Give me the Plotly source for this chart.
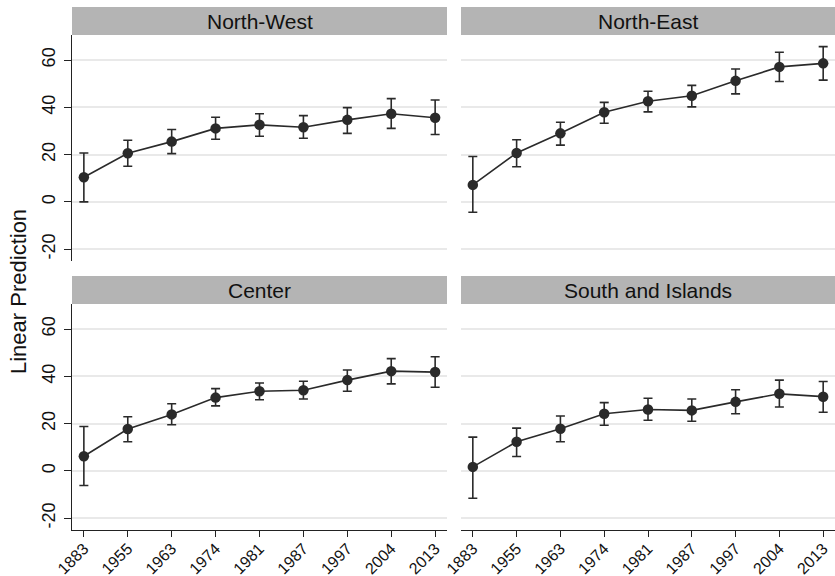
import plotly.graph_objects as go

years = ["1883", "1955", "1963", "1974", "1981", "1987", "1997", "2004", "2013"]
regions = ["North-West", "North-East", "Center", "South and Islands"]

nw_mean = [10.4, 20.6, 25.5, 31.1, 32.6, 31.6, 34.7, 37.3, 35.6]
nw_low = [0.0, 15.1, 20.4, 26.5, 27.8, 26.9, 29.0, 31.1, 28.5]
nw_high = [20.7, 26.1, 30.6, 35.8, 37.3, 36.5, 39.9, 43.7, 43.1]

ne_mean = [7.2, 20.7, 29.0, 37.9, 42.6, 44.9, 51.2, 57.1, 58.6]
ne_low = [-4.4, 14.9, 24.0, 33.3, 38.1, 40.2, 45.7, 50.9, 51.5]
ne_high = [19.2, 26.3, 33.7, 42.1, 46.8, 49.3, 56.2, 63.3, 65.7]

ce_mean = [6.2, 17.7, 23.9, 31.0, 33.7, 34.1, 38.4, 42.2, 41.8]
ce_low = [-6.2, 12.3, 19.5, 27.5, 30.1, 30.4, 33.7, 36.8, 35.4]
ce_high = [18.8, 22.9, 28.4, 34.8, 37.2, 37.9, 42.7, 47.5, 48.3]

si_mean = [1.7, 12.3, 17.8, 24.2, 26.0, 25.6, 29.2, 32.6, 31.4]
si_low = [-11.6, 6.1, 12.3, 19.3, 21.4, 21.0, 24.2, 27.0, 24.8]
si_high = [14.3, 18.1, 23.2, 28.9, 30.7, 30.4, 34.3, 38.4, 37.8]

y_ticks = [-20, 0, 20, 40, 60]
y_tick_labels = ["-20", "0", "20", "40", "60"]

series = [
    (nw_mean, nw_low, nw_high),
    (ne_mean, ne_low, ne_high),
    (ce_mean, ce_low, ce_high),
    (si_mean, si_low, si_high),
]

W, H = 835, 576
FONT = "Liberation Sans, Arial, sans-serif"
DARK = "#2a2a2a"
GRID = "#e9e9e9"
STRIP = "#b4b4b4"

# panel pixel boxes
xcols = [(72, 447), (461, 835)]
yrows = [(35, 261), (304, 530)]
strips = [(7, 35), (276, 304)]

fig = go.Figure()
layout = {}
for i, (mean, low, high) in enumerate(series):
    r, c = divmod(i, 2)
    ax = "" if i == 0 else str(i + 1)
    xref, yref = "x" + ax, "y" + ax
    err_plus = [h - m for h, m in zip(high, mean)]
    err_minus = [m - l for m, l in zip(mean, low)]
    fig.add_trace(go.Scatter(
        x=list(range(len(years))), y=mean, mode="lines+markers",
        xaxis=xref, yaxis=yref, showlegend=False,
        line=dict(color=DARK, width=1.6),
        marker=dict(color=DARK, size=10.5),
        error_y=dict(type="data", symmetric=False, array=err_plus,
                     arrayminus=err_minus, color=DARK, thickness=1.6, width=4.5),
        cliponaxis=False,
    ))
    x0, x1 = xcols[c]
    yt, yb = yrows[r]
    bottom = r == 1
    left = c == 0
    layout["xaxis" + ax] = dict(
        domain=[x0 / W, x1 / W], anchor=yref, range=[-0.27, 8.27],
        tickmode="array", tickvals=list(range(len(years))), ticktext=years,
        showticklabels=bottom, ticks="outside" if bottom else "",
        ticklen=6, tickwidth=1.3, tickcolor="#222",
        showline=bottom, linecolor="#222", linewidth=1.3,
        showgrid=False, zeroline=False, tickangle=-45, automargin=False,
        ticklabelstandoff=-4,
        tickfont=dict(family=FONT, size=16, color="#111"),
    )
    layout["yaxis" + ax] = dict(
        domain=[1 - yb / H, 1 - yt / H], anchor=xref, range=[-25, 70.6],
        tickmode="array", tickvals=y_ticks, ticktext=y_tick_labels,
        showticklabels=left, ticks="outside" if left else "",
        ticklen=7, tickwidth=1.3, tickcolor="#222",
        showline=left, linecolor="#222", linewidth=1.3,
        showgrid=True, gridcolor=GRID, gridwidth=1.5, zeroline=False,
        tickangle=-90, automargin=False, ticklabelstandoff=2,
        tickfont=dict(family=FONT, size=18, color="#111"),
    )
    sy0, sy1 = strips[r]
    fig.add_shape(type="rect", xref="paper", yref="paper",
                  x0=x0 / W, x1=x1 / W, y0=1 - sy1 / H, y1=1 - sy0 / H,
                  fillcolor=STRIP, line=dict(width=0), layer="below")
    fig.add_annotation(xref="paper", yref="paper",
                       x=(x0 + x1) / 2 / W, y=1 - (sy0 + sy1) / 2 / H,
                       text=regions[i], showarrow=False,
                       font=dict(family=FONT, size=21, color="#111"),
                       xanchor="center", yanchor="middle")

fig.add_annotation(xref="paper", yref="paper", x=18 / W, y=1 - 292 / H,
                   text="Linear Prediction", textangle=-90, showarrow=False,
                   font=dict(family=FONT, size=22, color="#111"),
                   xanchor="center", yanchor="middle")

fig.update_layout(
    width=W, height=H, margin=dict(l=0, r=0, t=0, b=0, pad=0, autoexpand=False),
    paper_bgcolor="white", plot_bgcolor="white",
    **layout,
)

fig.write_html("out.html", config={"displayModeBar": False},
               post_script="document.body.style.margin='0';document.body.style.overflow='hidden';")
